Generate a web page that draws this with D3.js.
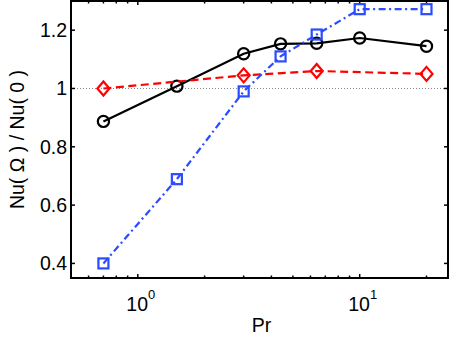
<!DOCTYPE html>
<html>
<head>
<meta charset="utf-8">
<script src="https://cdn.jsdelivr.net/npm/d3@7"></script>
<style>
html,body{margin:0;padding:0;background:#fff;}
svg{display:block;font-family:"Liberation Sans",Arial,Helvetica,sans-serif;}
</style>
</head>
<body>
<svg id="chart" width="450" height="339"></svg>
<script>
const prAll = [0.7, 1.5, 3, 4.4, 6.4, 10, 20];
const blackVals = [0.887, 1.008, 1.119, 1.153, 1.155, 1.173, 1.145];
const blueVals = [0.40, 0.689, 0.99, 1.11, 1.185, 1.272, 1.272];
const prRed = [0.7, 3, 6.4, 20];
const redVals = [1.0, 1.045, 1.06, 1.05];
const yTicks = [0.4, 0.6, 0.8, 1, 1.2];
const yTickLabels = ["0.4", "0.6", "0.8", "1", "1.2"];
const xMajor = [1, 10];
const xMajorExp = ["0", "1"];
const xMinor = [0.5,0.6,0.7,0.8,0.9,2,3,4,5,6,7,8,9,20];

const L = 71, R = 448, T = 1, B = 278;
const svg = d3.select("#chart");
const x = d3.scaleLog().domain([0.5, 25]).range([L, R]);
const y = d3.scaleLinear().domain([0.35, 1.3]).range([B, T]);

// reference dotted line at 1
svg.append("line").attr("x1", L).attr("x2", R).attr("y1", y(1)).attr("y2", y(1))
  .attr("stroke", "#888").attr("stroke-width", 1).attr("stroke-dasharray", "1,2");

// ticks
const tk = svg.append("g").attr("stroke", "#000").attr("stroke-width", 1.5);
yTicks.forEach(v => {
  tk.append("line").attr("x1", L).attr("x2", L + 4).attr("y1", y(v)).attr("y2", y(v));
  tk.append("line").attr("x1", R - 4).attr("x2", R).attr("y1", y(v)).attr("y2", y(v));
});
xMajor.forEach(v => {
  tk.append("line").attr("x1", x(v)).attr("x2", x(v)).attr("y1", B).attr("y2", B - 4);
  tk.append("line").attr("x1", x(v)).attr("x2", x(v)).attr("y1", T).attr("y2", T + 4);
});
xMinor.forEach(v => {
  tk.append("line").attr("x1", x(v)).attr("x2", x(v)).attr("y1", B).attr("y2", B - 2.5);
  tk.append("line").attr("x1", x(v)).attr("x2", x(v)).attr("y1", T).attr("y2", T + 2.5);
});

// series
const lineAll = d3.line().x(d => x(d[0])).y(d => y(d[1]));
const blackData = prAll.map((p, i) => [p, blackVals[i]]);
const blueData = prAll.map((p, i) => [p, blueVals[i]]);
const redData = prRed.map((p, i) => [p, redVals[i]]);

svg.append("path").datum(blackData).attr("d", lineAll).attr("fill", "none")
  .attr("stroke", "#000").attr("stroke-width", 2.2);
svg.append("g").selectAll("circle").data(blackData).join("circle")
  .attr("cx", d => x(d[0])).attr("cy", d => y(d[1])).attr("r", 5.6)
  .attr("fill", "none").attr("stroke", "#000").attr("stroke-width", 2.2);

svg.append("path").datum(redData).attr("d", lineAll).attr("fill", "none")
  .attr("stroke", "#ff0000").attr("stroke-width", 2.2).attr("stroke-dasharray", "8,4.5");
svg.append("g").selectAll("path").data(redData).join("path")
  .attr("d", d => { const cx = x(d[0]), cy = y(d[1]); return `M${cx},${cy-7}L${cx+6},${cy}L${cx},${cy+7}L${cx-6},${cy}Z`; })
  .attr("fill", "none").attr("stroke", "#ff0000").attr("stroke-width", 2.2);

const blue = "#2a4bff";
svg.append("path").datum(blueData).attr("d", lineAll).attr("fill", "none")
  .attr("stroke", blue).attr("stroke-width", 2.2).attr("stroke-dasharray", "7,3.5,2,3.5");
svg.append("g").selectAll("rect").data(blueData).join("rect")
  .attr("x", d => x(d[0]) - 5).attr("y", d => y(d[1]) - 5).attr("width", 10).attr("height", 10)
  .attr("fill", "none").attr("stroke", blue).attr("stroke-width", 2.2);

// axes box
svg.append("rect").attr("x", L).attr("y", T).attr("width", R - L).attr("height", B - T)
  .attr("fill", "none").attr("stroke", "#000").attr("stroke-width", 2);

// y tick labels
svg.append("g").selectAll("text").data(yTicks).join("text")
  .attr("x", L - 4).attr("y", d => y(d)).attr("dy", "0.36em").attr("text-anchor", "end")
  .attr("font-size", 19.5).text((d, i) => yTickLabels[i]);

// x tick labels
xMajor.forEach((v, i) => {
  const t = svg.append("text").attr("x", x(v) + 3).attr("y", 311).attr("text-anchor", "middle").attr("font-size", 19.5);
  t.append("tspan").text("10");
  t.append("tspan").attr("dy", -12.5).attr("font-size", 13).text(xMajorExp[i]);
});

// axis labels
svg.append("text").attr("x", (L + R) / 2 + 2).attr("y", 332).attr("text-anchor", "middle")
  .attr("font-size", 19.5).text("Pr");
svg.append("text").attr("transform", `translate(24,${(T + B) / 2}) rotate(-90)`)
  .attr("text-anchor", "middle").attr("font-size", 19.5).text("Nu( Ω ) / Nu( 0 )");
</script>
</body>
</html>
